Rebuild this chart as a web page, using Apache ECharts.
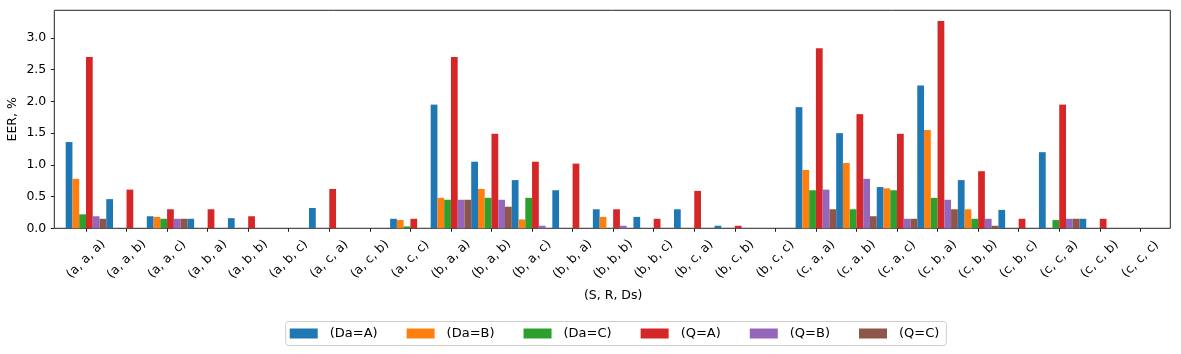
<!DOCTYPE html>
<html>
<head>
<meta charset="utf-8">
<script src="https://cdn.jsdelivr.net/npm/echarts@6/dist/echarts.min.js"></script>
<style>
html,body{margin:0;padding:0;background:#fff;}
#chart{width:1181px;height:354px;}
</style>
</head>
<body>
<div id="chart"></div>
<script>
const categories = ['(a, a, a)', '(a, a, b)', '(a, a, c)', '(a, b, a)', '(a, b, b)', '(a, b, c)', '(a, c, a)', '(a, c, b)', '(a, c, c)',
  '(b, a, a)', '(b, a, b)', '(b, a, c)', '(b, b, a)', '(b, b, b)', '(b, b, c)', '(b, c, a)', '(b, c, b)', '(b, c, c)',
  '(c, a, a)', '(c, a, b)', '(c, a, c)', '(c, b, a)', '(c, b, b)', '(c, b, c)', '(c, c, a)', '(c, c, b)', '(c, c, c)'];
const seriesNames = ['(Da=A)', '(Da=B)', '(Da=C)', '(Q=A)', '(Q=B)', '(Q=C)'];
const DaA = [1.36, 0.46, 0.19, 0.15, 0.16, 0, 0.32, 0, 0.15, 1.95, 1.05, 0.76, 0.60, 0.30, 0.18, 0.30, 0.04, 0, 1.91, 1.50, 0.65, 2.25, 0.76, 0.29, 1.20, 0.15, 0];
const DaB = [0.78, 0, 0.18, 0, 0, 0, 0, 0, 0.13, 0.48, 0.62, 0.14, 0, 0.18, 0, 0, 0, 0, 0.92, 1.03, 0.63, 1.55, 0.30, 0, 0, 0, 0];
const DaC = [0.22, 0, 0.15, 0, 0, 0, 0, 0, 0.03, 0.45, 0.48, 0.48, 0, 0, 0, 0, 0, 0, 0.60, 0.30, 0.60, 0.48, 0.15, 0, 0.13, 0, 0];
const QA  = [2.70, 0.61, 0.30, 0.30, 0.19, 0, 0.62, 0, 0.15, 2.70, 1.49, 1.05, 1.02, 0.30, 0.15, 0.59, 0.04, 0, 2.84, 1.80, 1.49, 3.27, 0.90, 0.15, 1.95, 0.15, 0];
const QB  = [0.19, 0, 0.15, 0, 0, 0, 0, 0, 0, 0.45, 0.45, 0.04, 0, 0.04, 0, 0, 0, 0, 0.61, 0.78, 0.15, 0.45, 0.15, 0, 0.15, 0, 0];
const QC  = [0.15, 0, 0.15, 0, 0, 0, 0, 0, 0, 0.45, 0.34, 0, 0, 0, 0, 0, 0, 0, 0.30, 0.19, 0.15, 0.30, 0.04, 0, 0.15, 0, 0];
const yTicks = [0, 0.5, 1.0, 1.5, 2.0, 2.5, 3.0];
const colors = ['#1f77b4', '#ff7f0e', '#2ca02c', '#d62728', '#9467bd', '#8c564b'];
const allData = [DaA, DaB, DaC, QA, QB, QC];

const font = 'DejaVu Sans';
const chart = echarts.init(document.getElementById('chart'), null, {renderer: 'canvas'});
chart.setOption({
  animation: false,
  color: colors,
  textStyle: {fontFamily: font},
  grid: [
    {left: 65.7, right: 20.4, top: 10.3, bottom: 125.7, containLabel: false, outerBoundsMode: 'none'},
    {left: 54.3, right: 10.7, top: 10.3, bottom: 125.7, containLabel: false, outerBoundsMode: 'none',
     show: true, borderColor: '#222', borderWidth: 1, backgroundColor: 'transparent', z: 0}
  ],
  legend: {
    data: seriesNames,
    left: 285.7, top: 321.5,
    orient: 'horizontal',
    itemWidth: 28, itemHeight: 10, itemGap: 29,
    padding: [5, 7, 5, 4],
    borderColor: '#cccccc', borderWidth: 1, borderRadius: 3,
    icon: 'rect',
    textStyle: {fontFamily: font, fontSize: 13, color: '#000', padding: [0, 0, 0, 7], lineHeight: 14}
  },
  xAxis: [
    {
      type: 'category', gridIndex: 0, data: categories,
      axisLine: {show: false},
      axisTick: {show: true, alignWithLabel: true, length: 3.5, lineStyle: {color: '#222', width: 1}},
      axisLabel: {interval: 0, rotate: 45, align: 'center', verticalAlign: 'middle', margin: 31,
        fontFamily: font, fontSize: 12.5, color: '#000'},
      name: '(S, R, Ds)', nameLocation: 'middle', nameGap: 61, nameMoveOverlap: false,
      nameTextStyle: {fontFamily: font, fontSize: 12.5, color: '#000'}
    },
    {type: 'value', gridIndex: 1, show: false}
  ],
  yAxis: [
    {
      type: 'value', gridIndex: 0, min: 0, max: 3.437, interval: 0.5, offset: 11.4,
      splitLine: {show: false},
      axisLine: {show: false},
      axisTick: {show: true, length: 3.5, lineStyle: {color: '#222', width: 1}, customValues: yTicks},
      axisLabel: {margin: 8, fontFamily: font, fontSize: 12.5, color: '#000', customValues: yTicks,
        formatter: v => v.toFixed(1)},
      name: 'EER, %', nameLocation: 'middle', nameGap: 35, nameRotate: 90, nameMoveOverlap: false,
      nameTextStyle: {fontFamily: font, fontSize: 12.5, color: '#000'}
    },
    {type: 'value', gridIndex: 1, show: false}
  ],
  series: seriesNames.map((n, i) => ({
    name: n, type: 'bar', xAxisIndex: 0, yAxisIndex: 0,
    data: allData[i],
    barGap: '0%', barCategoryGap: '0%',
    itemStyle: {color: colors[i]}
  }))
});
</script>
</body>
</html>
